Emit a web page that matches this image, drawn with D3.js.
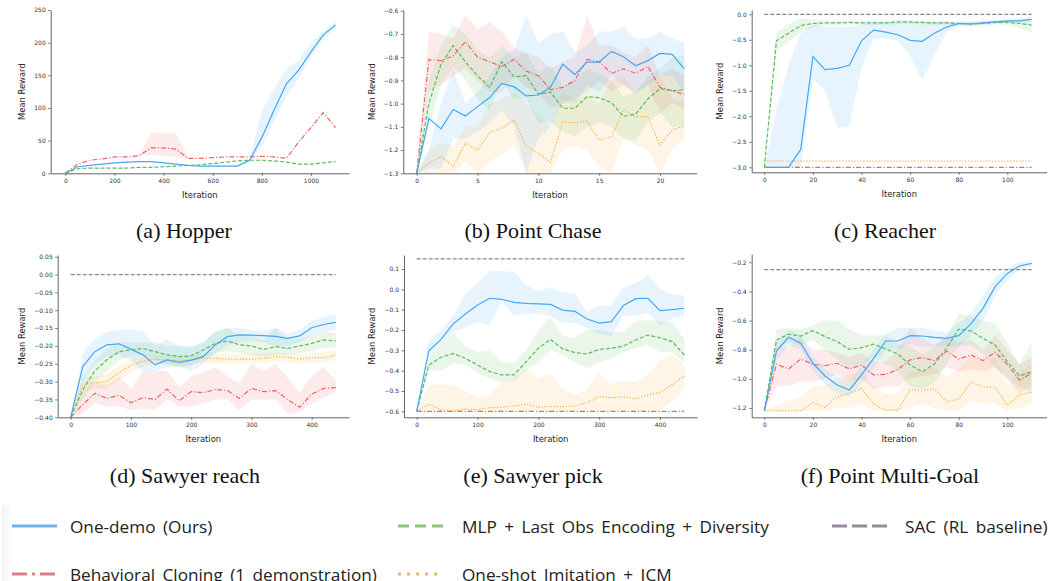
<!DOCTYPE html>
<html>
<head>
<meta charset="utf-8">
<script src="https://cdn.jsdelivr.net/npm/d3@7"></script>
<style>
  body { margin: 0; background: #fff; }
  svg { display: block; }
</style>
</head>
<body>
<svg id="chart" width="1055" height="581"></svg>
<script>
// ---- Hopper ----
const hopperIter = [0, 50, 100, 150, 200, 250, 300, 350, 400, 450, 500, 550, 600, 650, 700, 750, 800, 850, 900, 950, 1000, 1050, 1100];
const hopperDemo = [0, 10, 12, 14, 16, 17, 18, 18, 16, 14, 12, 11, 11, 11, 11, 20, 55, 97, 137, 158, 186, 212, 227];
const hopperDemoLo = [0, 10, 12, 14, 16, 17, 18, 18, 16, 14, 12, 11, 11, 11, 11, 17, 42, 80, 118, 145, 178, 204, 222];
const hopperDemoHi = [0, 10, 12, 14, 16, 17, 18, 18, 16, 14, 12, 11, 11, 11, 11, 22, 95, 130, 160, 173, 200, 218, 232];
const hopperBc = [0, 14, 20, 22, 25, 25, 27, 39, 39, 37, 23, 23, 24, 25, 25, 25, 26, 25, 23, 48, 70, 93, 70];
const hopperBcLo = [0, 14, 20, 22, 25, 25, 27, 28, 27, 25, 22, 23, 24, 25, 25, 25, 26, 25, 23, 48, 70, 93, 70];
const hopperBcHi = [0, 14, 20, 22, 25, 25, 27, 63, 62, 61, 25, 23, 24, 25, 25, 25, 26, 25, 23, 48, 70, 93, 70];
const hopperMlp = [0, 7, 8, 8, 8, 8, 9, 9, 10, 11, 12, 13, 15, 17, 19, 20, 20, 19, 17, 14, 14, 16, 18];

// ---- Point Chase ----
const chaseIter = [0, 1, 2, 3, 4, 5, 6, 7, 8, 9, 10, 11, 12, 13, 14, 15, 16, 17, 18, 19, 20, 21, 22];
const chaseDemo = [-1.3, -1.063, -1.109, -1.025, -1.053, -1.013, -0.974, -0.913, -0.927, -0.967, -0.963, -0.93, -0.83, -0.875, -0.821, -0.821, -0.775, -0.798, -0.837, -0.815, -0.784, -0.788, -0.85];
const chaseDemoHi = [-1.3, -1.2, -1.0, -0.85, -1.0, -0.95, -0.88, -0.8, -0.77, -0.62, -0.74, -0.7, -0.69, -0.78, -0.75, -0.69, -0.69, -0.67, -0.72, -0.72, -0.69, -0.72, -0.74];
const chaseDemoLo = [-1.3, -1.28, -1.28, -1.15, -1.15, -1.12, -1.08, -1.03, -1.1, -1.3, -1.15, -1.1, -0.98, -1.0, -0.92, -0.95, -0.88, -0.92, -0.96, -0.92, -0.88, -0.88, -0.95];
const chaseBc = [-1.3, -0.81, -0.815, -0.795, -0.733, -0.8, -0.82, -0.84, -0.81, -0.86, -0.88, -0.94, -0.93, -0.9, -0.81, -0.82, -0.87, -0.85, -0.87, -0.84, -0.93, -0.945, -0.96];
const chaseBcHi = [-1.3, -0.69, -0.7, -0.72, -0.62, -0.68, -0.65, -0.69, -0.76, -0.78, -0.8, -0.85, -0.82, -0.8, -0.62, -0.75, -0.75, -0.78, -0.8, -0.75, -0.88, -0.85, -0.88];
const chaseBcLo = [-1.3, -0.95, -0.92, -0.88, -0.85, -0.9, -0.95, -0.95, -0.88, -0.93, -0.95, -1.02, -1.0, -0.98, -0.95, -0.9, -0.95, -0.92, -0.95, -0.92, -1.04, -1.0, -1.02];
const chaseMlp = [-1.3, -1.0, -0.83, -0.75, -0.82, -0.88, -0.93, -0.82, -0.885, -0.88, -0.96, -0.95, -1.02, -1.02, -0.97, -0.975, -0.995, -1.055, -1.045, -0.98, -0.935, -0.945, -0.94];
const chaseMlpHi = [-1.3, -0.9, -0.75, -0.66, -0.7, -0.77, -0.8, -0.75, -0.8, -0.78, -0.87, -0.83, -0.93, -0.9, -0.85, -0.87, -0.9, -0.97, -0.95, -0.88, -0.85, -0.8, -0.79];
const chaseMlpLo = [-1.3, -1.1, -0.92, -0.84, -0.9, -0.98, -1.03, -0.9, -0.98, -0.98, -1.08, -1.08, -1.12, -1.14, -1.1, -1.08, -1.1, -1.15, -1.16, -1.08, -1.04, -1.1, -1.1];
const chaseOsi = [-1.3, -1.257, -1.228, -1.271, -1.171, -1.2, -1.124, -1.106, -1.07, -1.182, -1.214, -1.253, -1.08, -1.082, -1.075, -1.157, -1.142, -1.027, -1.056, -1.056, -1.18, -1.113, -1.096];
const chaseOsiHi = [-1.3, -1.2, -1.17, -1.18, -1.1, -1.1, -1.0, -0.98, -0.95, -1.0, -1.05, -1.1, -0.95, -0.98, -0.97, -1.0, -0.9, -0.88, -0.95, -0.9, -0.88, -0.98, -1.0];
const chaseOsiLo = [-1.3, -1.3, -1.3, -1.3, -1.25, -1.3, -1.25, -1.22, -1.18, -1.3, -1.3, -1.3, -1.2, -1.18, -1.2, -1.27, -1.3, -1.15, -1.18, -1.2, -1.3, -1.2, -1.15];

// ---- Reacher ----
const reacherIter = [0, 5, 10, 15, 20, 25, 30, 35, 40, 45, 50, 55, 60, 65, 70, 75, 80, 85, 90, 95, 100, 105, 110];
const reacherDemo = [-3.0, -3.0, -3.0, -2.65, -0.83, -1.085, -1.06, -1.0, -0.52, -0.31, -0.35, -0.4, -0.51, -0.53, -0.37, -0.25, -0.18, -0.19, -0.17, -0.15, -0.13, -0.13, -0.1];
const reacherDemoHi = [-3.0, -1.88, -0.99, -0.37, -0.2, -0.25, -0.25, -0.25, -0.2, -0.15, -0.15, -0.15, -0.15, -0.15, -0.15, -0.15, -0.14, -0.14, -0.13, -0.12, -0.1, -0.08, -0.05];
const reacherDemoLo = [-3.0, -3.0, -3.0, -3.0, -1.27, -1.5, -2.23, -2.2, -1.05, -0.48, -0.48, -0.52, -0.82, -1.3, -0.8, -0.35, -0.22, -0.22, -0.2, -0.18, -0.17, -0.16, -0.15];
const reacherMlp = [-3.0, -0.52, -0.37, -0.22, -0.18, -0.17, -0.17, -0.16, -0.17, -0.17, -0.17, -0.15, -0.15, -0.16, -0.17, -0.17, -0.18, -0.19, -0.18, -0.16, -0.16, -0.18, -0.21];
const reacherMlpHi = [-3.0, -0.35, -0.2, -0.08, -0.1, -0.12, -0.12, -0.12, -0.13, -0.13, -0.13, -0.12, -0.12, -0.13, -0.13, -0.13, -0.14, -0.15, -0.14, -0.12, -0.12, -0.12, -0.12];
const reacherMlpLo = [-3.0, -0.72, -0.55, -0.35, -0.25, -0.22, -0.22, -0.2, -0.21, -0.21, -0.21, -0.19, -0.19, -0.2, -0.21, -0.21, -0.22, -0.23, -0.22, -0.2, -0.21, -0.27, -0.35];
const reacherEnds = [0, 110];
const reacherBc = [-3.0, -3.0];
const reacherOsi = [-2.88, -2.88];
const reacherSac = [0.0, 0.0];

// ---- Sawyer reach ----
const reachIter = [0, 20, 40, 60, 80, 100, 120, 140, 160, 180, 200, 220, 240, 260, 280, 300, 320, 340, 360, 380, 400, 420, 440];
const reachDemo = [-0.40, -0.258, -0.216, -0.197, -0.194, -0.209, -0.225, -0.253, -0.239, -0.246, -0.24, -0.23, -0.197, -0.174, -0.169, -0.17, -0.171, -0.173, -0.179, -0.172, -0.149, -0.14, -0.134];
const reachDemoHi = [-0.40, -0.22, -0.18, -0.16, -0.155, -0.155, -0.16, -0.2, -0.18, -0.2, -0.2, -0.19, -0.16, -0.15, -0.15, -0.155, -0.16, -0.15, -0.165, -0.155, -0.13, -0.12, -0.11];
const reachDemoLo = [-0.40, -0.3, -0.25, -0.23, -0.225, -0.24, -0.27, -0.27, -0.26, -0.26, -0.27, -0.25, -0.22, -0.2, -0.19, -0.185, -0.19, -0.2, -0.2, -0.19, -0.17, -0.16, -0.155];
const reachMlp = [-0.40, -0.323, -0.27, -0.239, -0.216, -0.211, -0.207, -0.216, -0.225, -0.23, -0.228, -0.211, -0.193, -0.186, -0.197, -0.2, -0.21, -0.202, -0.207, -0.2, -0.193, -0.183, -0.186];
const reachMlpHi = [-0.40, -0.29, -0.24, -0.21, -0.19, -0.19, -0.19, -0.19, -0.2, -0.2, -0.205, -0.19, -0.16, -0.15, -0.17, -0.17, -0.185, -0.15, -0.18, -0.18, -0.17, -0.16, -0.165];
const reachMlpLo = [-0.40, -0.35, -0.3, -0.27, -0.24, -0.23, -0.225, -0.24, -0.25, -0.26, -0.255, -0.235, -0.22, -0.215, -0.22, -0.225, -0.23, -0.225, -0.225, -0.22, -0.215, -0.205, -0.205];
const reachOsi = [-0.40, -0.31, -0.303, -0.3, -0.275, -0.255, -0.242, -0.238, -0.239, -0.242, -0.239, -0.235, -0.235, -0.237, -0.237, -0.237, -0.235, -0.23, -0.232, -0.237, -0.233, -0.233, -0.225];
const reachOsiHi = [-0.40, -0.29, -0.285, -0.28, -0.255, -0.235, -0.225, -0.225, -0.225, -0.228, -0.225, -0.222, -0.222, -0.222, -0.222, -0.222, -0.222, -0.218, -0.22, -0.222, -0.22, -0.218, -0.21];
const reachOsiLo = [-0.40, -0.33, -0.32, -0.32, -0.295, -0.275, -0.258, -0.25, -0.252, -0.255, -0.252, -0.248, -0.248, -0.25, -0.25, -0.25, -0.248, -0.243, -0.245, -0.25, -0.246, -0.246, -0.24];
const reachBc = [-0.40, -0.364, -0.333, -0.347, -0.338, -0.359, -0.345, -0.35, -0.321, -0.354, -0.328, -0.331, -0.322, -0.325, -0.347, -0.319, -0.328, -0.325, -0.35, -0.372, -0.335, -0.319, -0.317];
const reachBcHi = [-0.40, -0.33, -0.3, -0.31, -0.285, -0.32, -0.27, -0.27, -0.27, -0.315, -0.285, -0.275, -0.26, -0.285, -0.305, -0.25, -0.27, -0.25, -0.29, -0.33, -0.285, -0.26, -0.295];
const reachBcLo = [-0.40, -0.39, -0.36, -0.37, -0.37, -0.38, -0.375, -0.38, -0.35, -0.37, -0.37, -0.36, -0.35, -0.35, -0.38, -0.35, -0.35, -0.35, -0.39, -0.385, -0.36, -0.345, -0.33];
const reachEnds = [0, 440];
const reachSac = [0.0, 0.0];

// ---- Sawyer pick ----
const pickIter = [0, 20, 40, 60, 80, 100, 120, 140, 160, 180, 200, 220, 240, 260, 280, 300, 320, 340, 360, 380, 400, 420, 440];
const pickDemo = [-0.6, -0.302, -0.246, -0.17, -0.121, -0.077, -0.044, -0.049, -0.064, -0.069, -0.072, -0.074, -0.102, -0.108, -0.146, -0.166, -0.159, -0.079, -0.046, -0.044, -0.105, -0.1, -0.093];
const pickDemoHi = [-0.6, -0.25, -0.2, -0.13, -0.02, 0.03, 0.09, 0.09, 0.085, 0.02, -0.01, 0.01, -0.015, -0.02, -0.11, -0.08, -0.08, 0.01, 0.03, 0.07, 0.0, -0.025, -0.03];
const pickDemoLo = [-0.6, -0.32, -0.27, -0.21, -0.19, -0.16, -0.175, -0.06, -0.13, -0.12, -0.12, -0.13, -0.165, -0.165, -0.19, -0.22, -0.23, -0.13, -0.13, -0.115, -0.18, -0.14, -0.135];
const pickMlp = [-0.6, -0.372, -0.334, -0.316, -0.339, -0.372, -0.405, -0.421, -0.421, -0.356, -0.29, -0.246, -0.293, -0.311, -0.318, -0.295, -0.29, -0.279, -0.249, -0.225, -0.238, -0.257, -0.323];
const pickMlpHi = [-0.6, -0.33, -0.27, -0.215, -0.28, -0.31, -0.3, -0.36, -0.36, -0.3, -0.2, -0.14, -0.23, -0.24, -0.2, -0.2, -0.21, -0.21, -0.16, -0.15, -0.16, -0.16, -0.245];
const pickMlpLo = [-0.6, -0.4, -0.4, -0.365, -0.37, -0.41, -0.44, -0.455, -0.45, -0.4, -0.36, -0.3, -0.32, -0.36, -0.39, -0.36, -0.34, -0.31, -0.29, -0.275, -0.31, -0.31, -0.36];
const pickOsi = [-0.6, -0.566, -0.593, -0.598, -0.589, -0.592, -0.582, -0.58, -0.574, -0.564, -0.58, -0.577, -0.577, -0.574, -0.557, -0.528, -0.533, -0.528, -0.539, -0.52, -0.508, -0.47, -0.426];
const pickOsiHi = [-0.6, -0.47, -0.47, -0.47, -0.5, -0.53, -0.52, -0.46, -0.44, -0.39, -0.44, -0.41, -0.49, -0.52, -0.49, -0.41, -0.47, -0.45, -0.455, -0.42, -0.35, -0.32, -0.37];
const pickOsiLo = [-0.6, -0.6, -0.6, -0.6, -0.6, -0.6, -0.6, -0.6, -0.6, -0.6, -0.6, -0.6, -0.6, -0.6, -0.6, -0.6, -0.6, -0.6, -0.6, -0.6, -0.6, -0.55, -0.49];
const pickEnds = [0, 440];
const pickBc = [-0.6, -0.6];
const pickSac = [0.15, 0.15];

// ---- Point Multi-Goal ----
const multiIter = [0, 5, 10, 15, 20, 25, 30, 35, 40, 45, 50, 55, 60, 65, 70, 75, 80, 85, 90, 95, 100, 105, 110];
const multiDemo = [-1.22, -0.809, -0.715, -0.756, -0.893, -0.98, -1.042, -1.076, -0.973, -0.859, -0.74, -0.74, -0.703, -0.706, -0.715, -0.722, -0.703, -0.623, -0.516, -0.367, -0.276, -0.225, -0.207];
const multiDemoHi = [-1.22, -0.75, -0.66, -0.7, -0.85, -0.93, -0.98, -1.02, -0.9, -0.8, -0.69, -0.65, -0.65, -0.65, -0.67, -0.68, -0.62, -0.55, -0.43, -0.3, -0.24, -0.2, -0.2];
const multiDemoLo = [-1.22, -0.87, -0.77, -0.8, -0.95, -1.04, -1.1, -1.12, -1.03, -0.93, -0.8, -0.8, -0.76, -0.78, -0.78, -0.78, -0.78, -0.7, -0.6, -0.43, -0.32, -0.25, -0.22];
const multiMlp = [-1.22, -0.733, -0.694, -0.706, -0.669, -0.71, -0.745, -0.797, -0.786, -0.761, -0.795, -0.829, -0.905, -0.951, -0.898, -0.79, -0.658, -0.671, -0.722, -0.768, -0.882, -0.98, -0.951];
const multiMlpHi = [-1.22, -0.66, -0.65, -0.66, -0.63, -0.6, -0.6, -0.66, -0.7, -0.7, -0.7, -0.76, -0.78, -0.83, -0.78, -0.72, -0.55, -0.57, -0.6, -0.62, -0.75, -0.9, -0.75];
const multiMlpLo = [-1.22, -0.8, -0.75, -0.77, -0.73, -0.8, -0.87, -0.93, -0.9, -0.85, -0.9, -0.95, -1.05, -1.07, -1.03, -0.9, -0.77, -0.77, -0.83, -0.92, -1.0, -1.05, -1.1];
const multiBc = [-1.22, -0.9, -0.932, -0.864, -0.9, -0.909, -0.893, -0.932, -0.905, -0.973, -0.969, -0.935, -0.87, -0.854, -0.875, -0.809, -0.864, -0.836, -0.875, -0.818, -0.9, -1.008, -0.962];
const multiBcHi = [-1.22, -0.78, -0.78, -0.72, -0.8, -0.8, -0.82, -0.85, -0.82, -0.88, -0.88, -0.8, -0.65, -0.72, -0.77, -0.7, -0.75, -0.73, -0.8, -0.7, -0.8, -0.9, -0.85];
const multiBcLo = [-1.22, -1.05, -1.05, -1.02, -1.02, -1.0, -0.97, -1.02, -1.0, -1.07, -1.05, -1.05, -1.0, -0.98, -0.97, -0.92, -0.95, -0.93, -0.95, -0.92, -1.0, -1.1, -1.05];
const multiOsi = [-1.22, -1.22, -1.22, -1.22, -1.163, -1.195, -1.122, -1.1, -1.065, -1.173, -1.214, -1.214, -1.076, -1.076, -1.07, -1.156, -1.14, -1.024, -1.054, -1.058, -1.18, -1.11, -1.092];
const multiOsiHi = [-1.22, -1.18, -1.15, -1.12, -1.05, -1.05, -1.0, -0.97, -0.95, -1.05, -1.1, -1.1, -0.95, -0.95, -0.92, -0.98, -0.93, -0.85, -0.88, -0.85, -1.05, -0.95, -0.9];
const multiOsiLo = [-1.22, -1.22, -1.22, -1.22, -1.22, -1.22, -1.2, -1.2, -1.17, -1.22, -1.22, -1.22, -1.2, -1.17, -1.2, -1.22, -1.22, -1.15, -1.17, -1.17, -1.22, -1.2, -1.17];
const multiEnds = [0, 110];
const multiSac = [-0.25, -0.25];

// ---- tick labels and legend ----
const hopperXTicks = [0, 200, 400, 600, 800, 1000];
const hopperYTicks = [0, 50, 100, 150, 200, 250];
const chaseXTicks = [0, 5, 10, 15, 20];
const chaseYTicks = [-1.3, -1.2, -1.1, -1.0, -0.9, -0.8, -0.7, -0.6];
const reacherXTicks = [0, 20, 40, 60, 80, 100];
const reacherYTicks = [-3.0, -2.5, -2.0, -1.5, -1.0, -0.5, 0.0];
const reachXTicks = [0, 100, 200, 300, 400];
const reachYTicks = [-0.40, -0.35, -0.30, -0.25, -0.20, -0.15, -0.10, -0.05, 0.00, 0.05];
const pickXTicks = [0, 100, 200, 300, 400];
const pickYTicks = [-0.6, -0.5, -0.4, -0.3, -0.2, -0.1, 0.0, 0.1];
const multiXTicks = [0, 20, 40, 60, 80, 100];
const multiYTicks = [-1.2, -1.0, -0.8, -0.6, -0.4, -0.2];
const captions = ["(a) Hopper", "(b) Point Chase", "(c) Reacher", "(d) Sawyer reach", "(e) Sawyer pick", "(f) Point Multi-Goal"];
const legendNames = ["One-demo (Ours)", "MLP + Last Obs Encoding + Diversity", "SAC (RL baseline)", "Behavioral Cloning (1 demonstration)", "One-shot Imitation + ICM"];

// styles per method
const styles = {
    demo: { color: "#43a8f6", dash: null, legColor: "#72b2ee", legDash: null },
    mlp: { color: "#5cba5c", dash: "4,2", legColor: "#8ec47e", legDash: "11,6" },
    sac: { color: "#9c7a9c", dash: "4,2", legColor: "#9a88a0", legDash: "15,5" },
    bc: { color: "#f06464", dash: "5,2,1.2,2", legColor: "#d98080", legDash: "15,5,3,5" },
    osi: { color: "#f4b03e", dash: "1.2,1.8", legColor: "#e7b870", legDash: "3,6" }
};

function s(key, x, y, lo, hi) { return { key, x, y, lo, hi }; }

const panels = [
    { left: 50.7, right: 349, top: 10, bottom: 173.3, xA: [0, 1000], xP: [65.3, 311], yA: [0, 250], yP: [173.3, 10],
      xTicks: hopperXTicks, yTicks: hopperYTicks, yFmt: d3.format("d"), ylabX: 22, capX: 184, capY: 238,
      series: [s("demo", hopperIter, hopperDemo, hopperDemoLo, hopperDemoHi), s("mlp", hopperIter, hopperMlp), s("bc", hopperIter, hopperBc, hopperBcLo, hopperBcHi)] },
    { left: 403.3, right: 696.7, top: 10, bottom: 173.3, xA: [0, 20], xP: [416.7, 660], yA: [-1.3, -0.6], yP: [173.3, 10.7],
      xTicks: chaseXTicks, yTicks: chaseYTicks, yFmt: d3.format(".1f"), ylabX: 372, capX: 533, capY: 238,
      series: [s("demo", chaseIter, chaseDemo, chaseDemoLo, chaseDemoHi), s("mlp", chaseIter, chaseMlp, chaseMlpLo, chaseMlpHi),
               s("bc", chaseIter, chaseBc, chaseBcLo, chaseBcHi), s("osi", chaseIter, chaseOsi, chaseOsiLo, chaseOsiHi)] },
    { left: 751.7, right: 1046.7, top: 10, bottom: 172.3, xA: [0, 100], xP: [764.3, 1007.3], yA: [-3, 0], yP: [167.3, 14.3],
      xTicks: reacherXTicks, yTicks: reacherYTicks, yFmt: d3.format(".1f"), ylabX: 720, capX: 885, capY: 238,
      series: [s("demo", reacherIter, reacherDemo, reacherDemoLo, reacherDemoHi), s("mlp", reacherIter, reacherMlp, reacherMlpLo, reacherMlpHi),
               s("bc", reacherEnds, reacherBc), s("osi", reacherEnds, reacherOsi), s("sac", reacherEnds, reacherSac)] },
    { left: 57.7, right: 349, top: 255, bottom: 417.3, xA: [0, 400], xP: [70.7, 311.7], yA: [-0.4, 0.05], yP: [417.3, 256.7],
      xTicks: reachXTicks, yTicks: reachYTicks, yFmt: d3.format(".2f"), ylabX: 22, capX: 185, capY: 483,
      series: [s("demo", reachIter, reachDemo, reachDemoLo, reachDemoHi), s("mlp", reachIter, reachMlp, reachMlpLo, reachMlpHi),
               s("bc", reachIter, reachBc, reachBcLo, reachBcHi), s("osi", reachIter, reachOsi, reachOsiLo, reachOsiHi), s("sac", reachEnds, reachSac)] },
    { left: 404, right: 697.3, top: 255, bottom: 417.3, xA: [0, 400], xP: [416.7, 660], yA: [-0.6, 0.1], yP: [411.3, 269],
      xTicks: pickXTicks, yTicks: pickYTicks, yFmt: d3.format(".1f"), ylabX: 372, capX: 533, capY: 483,
      series: [s("demo", pickIter, pickDemo, pickDemoLo, pickDemoHi), s("mlp", pickIter, pickMlp, pickMlpLo, pickMlpHi),
               s("bc", pickEnds, pickBc), s("osi", pickIter, pickOsi, pickOsiLo, pickOsiHi), s("sac", pickEnds, pickSac)] },
    { left: 751.7, right: 1046.7, top: 254.3, bottom: 417.3, xA: [0, 100], xP: [764.3, 1007.3], yA: [-1.2, -0.2], yP: [408, 262.3],
      xTicks: multiXTicks, yTicks: multiYTicks, yFmt: d3.format(".1f"), ylabX: 720, capX: 890, capY: 483,
      series: [s("demo", multiIter, multiDemo, multiDemoLo, multiDemoHi), s("mlp", multiIter, multiMlp, multiMlpLo, multiMlpHi),
               s("bc", multiIter, multiBc, multiBcLo, multiBcHi), s("osi", multiIter, multiOsi, multiOsiLo, multiOsiHi), s("sac", multiEnds, multiSac)] }
];

const svg = d3.select("#chart");
const drawOrder = ["osi", "bc", "mlp", "demo", "sac"];

panels.forEach((p, i) => {
    const x = d3.scaleLinear().domain(p.xA).range(p.xP);
    x.domain([x.invert(p.left), x.invert(p.right)]).range([p.left, p.right]);
    const y = d3.scaleLinear().domain(p.yA).range(p.yP);
    y.domain([y.invert(p.bottom), y.invert(p.top)]).range([p.bottom, p.top]);

    const g = svg.append("g");
    const clipId = "clip" + i;
    svg.append("clipPath").attr("id", clipId)
        .append("rect").attr("x", p.left).attr("y", p.top - 2)
        .attr("width", p.right - p.left).attr("height", p.bottom - p.top + 2);

    const plot = g.append("g").attr("clip-path", "url(#" + clipId + ")");
    const ordered = drawOrder.map(k => p.series.find(d => d.key === k)).filter(Boolean);

    // bands
    ordered.filter(d => d.lo).forEach(d => {
        const area = d3.area()
            .x((v, j) => x(d.x[j]))
            .y0((v, j) => y(d.lo[j]))
            .y1((v, j) => y(d.hi[j]));
        plot.append("path")
            .attr("d", area(d.y))
            .attr("fill", styles[d.key].color)
            .attr("fill-opacity", 0.13);
    });

    // lines
    ordered.forEach(d => {
        const line = d3.line().x((v, j) => x(d.x[j])).y(v => y(v));
        plot.append("path")
            .attr("d", line(d.y))
            .attr("fill", "none")
            .attr("stroke", styles[d.key].color)
            .attr("stroke-width", 1.2)
            .attr("stroke-dasharray", styles[d.key].dash);
    });

    // axes
    const xAxis = g.append("g").attr("transform", `translate(0,${p.bottom})`)
        .call(d3.axisBottom(x).tickValues(p.xTicks).tickSize(2.5).tickSizeOuter(0).tickPadding(2.5).tickFormat(d3.format("d")));
    const yAxis = g.append("g").attr("transform", `translate(${p.left},0)`)
        .call(d3.axisLeft(y).tickValues(p.yTicks).tickSize(2.5).tickSizeOuter(0).tickPadding(2.5).tickFormat(p.yFmt));
    [xAxis, yAxis].forEach(a => {
        a.select(".domain").attr("stroke", "#555").attr("stroke-width", 0.9);
        a.selectAll(".tick line").attr("stroke", "#555").attr("stroke-width", 0.8);
        a.selectAll(".tick text").attr("font-family", "DejaVu Sans").attr("font-size", 6).attr("fill", "#333");
    });

    g.append("text")
        .attr("x", (p.left + p.right) / 2).attr("y", p.bottom + 25)
        .attr("text-anchor", "middle")
        .attr("font-family", "DejaVu Sans").attr("font-size", 8.4).attr("fill", "#222")
        .text("Iteration");
    g.append("text")
        .attr("transform", `translate(${p.ylabX},${(p.top + p.bottom) / 2}) rotate(-90)`)
        .attr("text-anchor", "middle").attr("dy", "0.35em")
        .attr("font-family", "DejaVu Sans").attr("font-size", 8.4).attr("fill", "#222")
        .text("Mean Reward");

    svg.append("text")
        .attr("x", p.capX).attr("y", p.capY)
        .attr("text-anchor", "middle")
        .attr("font-family", "Liberation Serif").attr("font-size", 22).attr("fill", "#111")
        .text(captions[i]);
});

// legend
const legendItems = [
    { key: "demo", name: legendNames[0], x: 12, y: 526, tx: 70 },
    { key: "mlp", name: legendNames[1], x: 398, y: 526, tx: 462 },
    { key: "sac", name: legendNames[2], x: 832, y: 526, tx: 905 },
    { key: "bc", name: legendNames[3], x: 12, y: 574, tx: 70 },
    { key: "osi", name: legendNames[4], x: 398, y: 574, tx: 462 }
];
const legend = svg.append("g");
const grad = svg.append("defs").append("linearGradient").attr("id", "legfade");
grad.append("stop").attr("offset", "0").attr("stop-color", "#f2f2f2");
grad.append("stop").attr("offset", "1").attr("stop-color", "#ffffff");
legend.append("rect").attr("x", 2).attr("y", 505).attr("width", 10).attr("height", 76)
    .attr("fill", "url(#legfade)");
legend.selectAll("line").data(legendItems).enter().append("line")
    .attr("x1", d => d.x).attr("x2", d => d.x + (d.key === "sac" ? 55 : 45))
    .attr("y1", d => d.y).attr("y2", d => d.y)
    .attr("stroke", d => styles[d.key].legColor)
    .attr("stroke-width", 3)
    .attr("stroke-dasharray", d => styles[d.key].legDash);
legend.selectAll("text").data(legendItems).enter().append("text")
    .attr("x", d => d.tx)
    .attr("y", d => d.y + 6.5)
    .attr("font-family", "Open Sans").attr("font-size", 17.2).attr("fill", "#222")
    .attr("word-spacing", 3)
    .text(d => d.name);
</script>
</body>
</html>
